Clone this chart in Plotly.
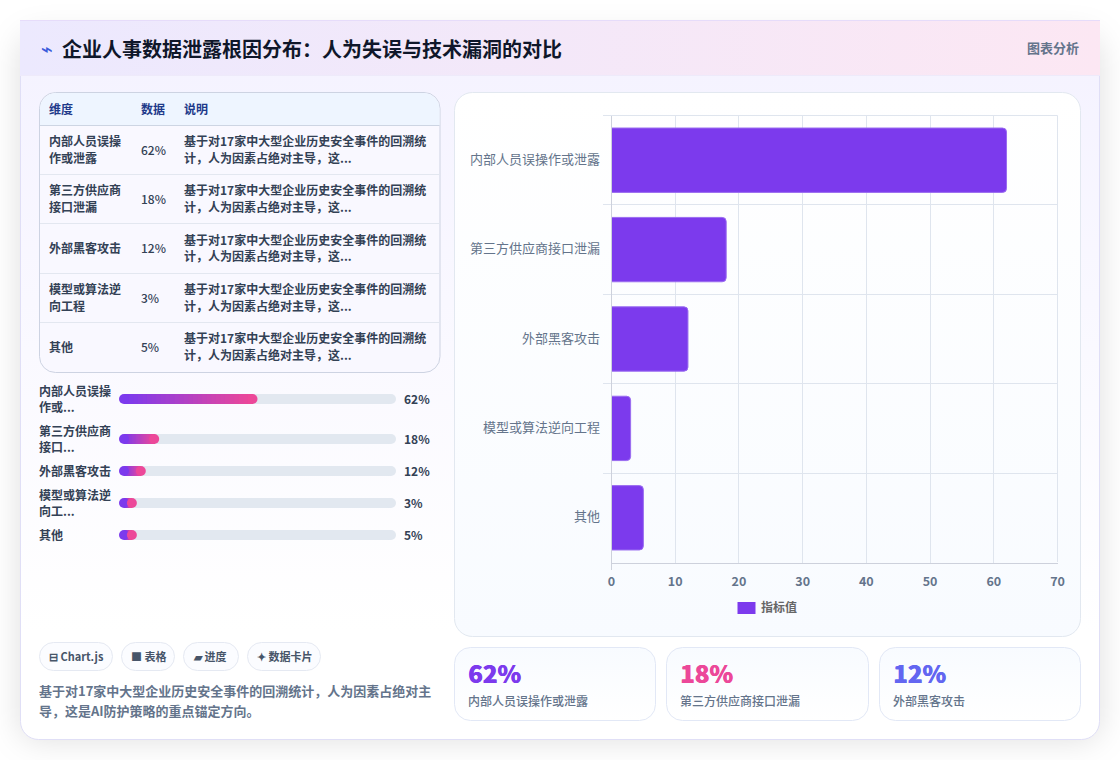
import base64
import plotly.graph_objects as go

W, H = 1120, 760
CJK = "Noto Sans CJK SC"

# Chart data
categories = ["内部人员误操作或泄露", "第三方供应商接口泄漏", "外部黑客攻击", "模型或算法逆向工程", "其他"]
values = [62, 18, 12, 3, 5]
series_name = "指标值"
x_ticks = [0, 10, 20, 30, 40, 50, 60, 70]

# Table and side panel text
title = "企业人事数据泄露根因分布：人为失误与技术漏洞的对比"
table_head = ["维度", "数据", "说明"]
table_dim = [["内部人员误操", "作或泄露"], ["第三方供应商", "接口泄漏"], ["外部黑客攻击"],
             ["模型或算法逆", "向工程"], ["其他"]]
table_note = ["基于对17家中大型企业历史安全事件的回溯统", "计，人为因素占绝对主导，这..."]
progress_names = [["内部人员误操", "作或..."], ["第三方供应商", "接口..."], ["外部黑客攻击"],
                  ["模型或算法逆", "向工..."], ["其他"]]
chips = ["⊟ Chart.js", "■ 表格", "▰ 进度", "✦ 数据卡片"]
footnote = ["基于对17家中大型企业历史安全事件的回溯统计，人为因素占绝对主", "导，这是AI防护策略的重点锚定方向。"]
kpi_colors = ["#7c3aed", "#ec4899", "#6366f1"]

# Decorative page backdrop: shadow, card, header band and panels
backdrop = f'''<svg xmlns="http://www.w3.org/2000/svg" width="{W}" height="{H}" viewBox="0 0 {W} {H}">
<defs>
<filter id="s" x="-10%" y="-10%" width="120%" height="125%"><feGaussianBlur stdDeviation="16"/></filter>
<linearGradient id="card" x1="0" y1="0" x2="0" y2="1"><stop offset="0" stop-color="#f4f2ff"/><stop offset="0.85" stop-color="#ffffff"/></linearGradient>
<linearGradient id="head" x1="0" y1="0" x2="1" y2="0"><stop offset="0" stop-color="#ece9fe"/><stop offset="1" stop-color="#fce7f3"/></linearGradient>
<linearGradient id="panel" x1="0" y1="0" x2="0" y2="1"><stop offset="0" stop-color="#ffffff"/><stop offset="1" stop-color="#f8fbff"/></linearGradient>
<linearGradient id="kpi" x1="0" y1="0" x2="0" y2="1"><stop offset="0" stop-color="#f8fbff"/><stop offset="1" stop-color="#ffffff"/></linearGradient>
<clipPath id="tc"><rect x="40" y="93" width="399.5" height="279" rx="16"/></clipPath>
</defs>
<rect width="{W}" height="{H}" fill="#ffffff"/>
<rect x="20" y="36" width="1080" height="704" rx="18" fill="#0f172a" fill-opacity="0.13" filter="url(#s)"/>
<rect x="20.5" y="20.5" width="1079" height="719" rx="18" fill="url(#card)" stroke="#e0dff6"/>
<rect x="20" y="20" width="1080" height="55.5" fill="url(#head)"/>
<path d="M20 20.5H1100" stroke="#e6dcfa"/><path d="M20 75.5H1100" stroke="#eeeafa"/>
<rect x="39.5" y="92.5" width="400.5" height="280" rx="16" fill="#f9f8ff" stroke="#cdd3e2"/>
<g clip-path="url(#tc)"><rect x="40" y="93" width="400" height="32" fill="#eef5ff"/>
<path d="M40 125.5H440" stroke="#cdd5e3"/><path d="M40 174.5H440M40 223.5H440M40 273.5H440M40 322.5H440" stroke="#e3e7f0"/></g>
<rect x="454.5" y="92.5" width="626" height="544" rx="18" fill="url(#panel)" stroke="#e2e8f0"/>
<path d="M611.5 562V570" stroke="#cfd3dd"/>
<path d="M611 115.5H1057.5V562" fill="none" stroke="#dfe5ee"/>
<rect x="737.5" y="602" width="18" height="12" fill="#7c3aed"/>
<rect x="454.5" y="647.5" width="201" height="73" rx="16" fill="url(#kpi)" stroke="#e2e8f6"/>
<rect x="666.5" y="647.5" width="202" height="73" rx="16" fill="url(#kpi)" stroke="#e2e8f6"/>
<rect x="879.5" y="647.5" width="201" height="73" rx="16" fill="url(#kpi)" stroke="#e2e8f6"/>
<rect x="39.5" y="642.5" width="73" height="28" rx="14" fill="#fbfcff" stroke="#e5e9f2"/>
<rect x="121.5" y="642.5" width="53" height="28" rx="14" fill="#fbfcff" stroke="#e5e9f2"/>
<rect x="183.5" y="642.5" width="55" height="28" rx="14" fill="#fbfcff" stroke="#e5e9f2"/>
<rect x="247.5" y="642.5" width="73" height="28" rx="14" fill="#fbfcff" stroke="#e5e9f2"/>
</svg>'''
backdrop_uri = "data:image/svg+xml;base64," + base64.b64encode(backdrop.encode()).decode()

annotations = []


def text(x, y, s, size=12, color="#334155", weight=400, anchor="left", family=CJK, shadow=None):
    font = dict(family=family, size=size, color=color, weight=weight)
    if shadow:
        font["shadow"] = shadow
    # The annotation box adds about a pixel around the glyphs
    x += 1 if anchor == "right" else -1
    annotations.append(dict(
        x=x / W, y=1 - (y - 1) / H, xref="paper", yref="paper", text=s, showarrow=False,
        xanchor=anchor, yanchor="middle", borderpad=0, font=font,
    ))


fig = go.Figure()

# Main horizontal bar chart
fig.add_trace(go.Bar(
    y=categories, x=values, orientation="h", name=series_name, showlegend=False,
    marker=dict(color="#7c3aed", cornerradius=4, line=dict(color="#9a6cf0", width=1)),
    xaxis="x", yaxis="y", hoverinfo="skip",
))

# Progress rows: each row's height follows its label's line count
ROW_GAP = 8
row_mids = []
cursor = 383
for lines in progress_names:
    height = 32 if len(lines) == 2 else 16
    row_mids.append(cursor + height / 2)
    cursor += height + ROW_GAP

TRACK_MAX = max(values) * 2          # the longest fill spans half of the track
TRACK_PX = 277
CAP_PX = 10
cap = (CAP_PX / 2) / TRACK_PX * TRACK_MAX
MIN_FILL = 8                         # short fills keep a minimum pill length
fills = [max(v, MIN_FILL) for v in values]


def mix(t):
    a, b = (124, 58, 237), (236, 72, 153)
    return "rgb(%d,%d,%d)" % tuple(round(p + (q - p) * t) for p, q in zip(a, b))


progress_axes = dict(xaxis="x2", yaxis="y2", orientation="h", hoverinfo="skip", showlegend=False)
fig.add_trace(go.Bar(
    y=row_mids, x=[TRACK_MAX - 2 * cap] * len(values), base=[cap] * len(values),
    width=CAP_PX, marker=dict(color="#e2e8f0", line=dict(width=0)), **progress_axes,
))
# Gradient fills: each band runs to the end of the bar and the next one paints over it
SEGMENTS = 28
for i in range(SEGMENTS):
    step = [(f - 2 * cap) / SEGMENTS for f in fills]
    fig.add_trace(go.Bar(
        y=row_mids, x=[s * (SEGMENTS - i) for s in step], base=[cap + s * i for s in step], width=CAP_PX,
        marker=dict(color=mix(i / (SEGMENTS - 1)), line=dict(width=0)), **progress_axes,
    ))
# Round ends of the tracks and fills
cap_style = dict(mode="markers", xaxis="x2", yaxis="y2", hoverinfo="skip", showlegend=False, cliponaxis=False)
fig.add_trace(go.Scatter(x=[TRACK_MAX - cap] * len(values), y=row_mids,
                         marker=dict(size=CAP_PX, color="#e2e8f0", line=dict(width=0)), **cap_style))
fig.add_trace(go.Scatter(x=[cap] * len(values), y=row_mids,
                         marker=dict(size=CAP_PX, color=mix(0), line=dict(width=0)), **cap_style))
fig.add_trace(go.Scatter(x=[f - cap for f in fills], y=row_mids,
                         marker=dict(size=CAP_PX, color=mix(1), line=dict(width=0)), **cap_style))

# Header
text(41, 50, "⌁", size=20, color="#3b5bdb", weight=700, family="DejaVu Sans")
text(62, 49.5, title, size=20, color="#0f172a", weight=700)
text(1079, 48, "图表分析", size=13, color="#64748b", weight=700, anchor="right")

# Table
TABLE_RULES = [125.5, 174.5, 223.5, 273.5, 322.5, 372]
COL_X = [49, 141, 184]
for x, s in zip(COL_X, table_head):
    text(x, 110, s, size=12, color="#1e3a8a", weight=700)
for r, (dim, v) in enumerate(zip(table_dim, values)):
    mid = (TABLE_RULES[r] + TABLE_RULES[r + 1]) / 2
    for k, line in enumerate(dim):
        text(COL_X[0], mid + (k - (len(dim) - 1) / 2) * 16.5, line, size=12, color="#334155", weight=700)
    text(COL_X[1], mid, f"{v}%", size=12, color="#334155", weight=500)
    for k, line in enumerate(table_note):
        text(COL_X[2], mid + (k - 0.5) * 16.5, line, size=12, color="#334155", weight=700)

# Progress labels
for lines, mid, v in zip(progress_names, row_mids, values):
    for k, line in enumerate(lines):
        text(39, mid + (k - (len(lines) - 1) / 2) * 16, line, size=12, color="#334155", weight=700)
    text(404, mid, f"{v}%", size=12, color="#334155", weight=700)

# Chips and footnote
for x, s in zip([49, 131, 193, 257], chips):
    text(x, 657, s, size=11, color="#475569", weight=700)
for k, line in enumerate(footnote):
    text(39, 691 + k * 20, line, size=13, color="#64748b", weight=700)

# KPI cards
for x, name, v, c in zip([468, 680, 893], categories[:3], values[:3], kpi_colors):
    text(x, 673, f"{v}%", size=24, color=c, weight=900, shadow=f"0.6px 0 0 {c}")
    text(x, 701, name, size=12, color="#64748b", weight=500)

# Legend entry
text(761, 607, series_name, size=12, color="#666666", weight=700)

fig.update_layout(
    width=W, height=H, margin=dict(l=0, r=0, t=0, b=0, pad=0, autoexpand=False), autosize=False,
    paper_bgcolor="rgba(0,0,0,0)", plot_bgcolor="rgba(0,0,0,0)",
    barmode="overlay", bargap=0.28, showlegend=False,
    images=[dict(source=backdrop_uri, xref="paper", yref="paper", x=0, y=1, sizex=1, sizey=1,
                 xanchor="left", yanchor="top", sizing="stretch", layer="below")],
    annotations=annotations,
    xaxis=dict(
        domain=[611.5 / W, 1057.5 / W], range=[0, 70], tickvals=x_ticks, anchor="y",
        showgrid=True, gridcolor="#dfe5ee", gridwidth=1, zeroline=False,
        showline=True, linecolor="#cdd1dc", linewidth=1, ticks="", ticklabelstandoff=7,
        tickfont=dict(family=CJK, size=12.5, color="#64748b", weight=700),
    ),
    yaxis=dict(
        domain=[1 - 562.5 / H, 1 - 115.5 / H], type="category", categoryorder="array",
        categoryarray=categories, autorange="reversed", anchor="x",
        tickson="boundaries", showgrid=True, gridcolor="#dfe5ee", gridwidth=1,
        showline=True, linecolor="#cdd1dc", linewidth=1,
        ticks="outside", ticklen=8, tickcolor="#dfe5ee", tickwidth=1, ticklabelstandoff=8,
        ticklabelshift=1,
        tickfont=dict(family=CJK, size=13, color="#64748b"),
    ),
    xaxis2=dict(domain=[119 / W, 396 / W], range=[0, TRACK_MAX], visible=False, anchor="y2"),
    yaxis2=dict(domain=[1 - 545 / H, 1 - 380 / H], range=[545, 380], visible=False, anchor="x2"),
)

fig.write_html("out.html", config=dict(displayModeBar=False, responsive=False))
